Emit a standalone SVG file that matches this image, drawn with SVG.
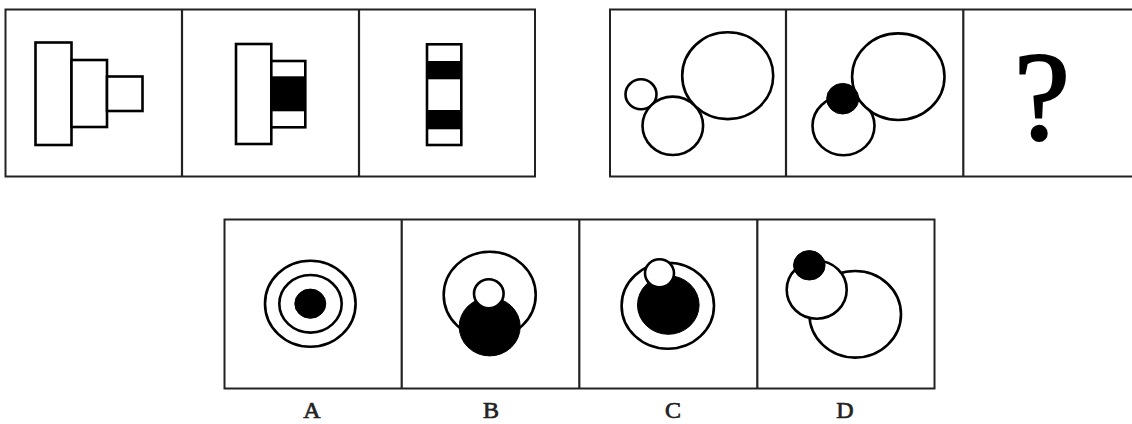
<svg xmlns="http://www.w3.org/2000/svg" width="1132" height="424" viewBox="0 0 1132 424">
<style>
.frame{fill:none;stroke:#222;stroke-width:2}
.div{stroke:#222;stroke-width:2.2}
.sh{fill:#fff;stroke:#000;stroke-width:2.6}
.blk{fill:#000;stroke:#000;stroke-width:1}
.band{fill:#000}
.lbl{font-family:"Liberation Serif","Times New Roman",serif;font-size:24px;fill:#222;stroke:#222;stroke-width:0.7;text-anchor:middle}
.q{font-family:"Liberation Serif","Times New Roman",serif;font-size:126px;fill:#000;stroke:#000;stroke-width:2.2;text-anchor:middle}
</style>
<rect width="1132" height="424" fill="#fff"/>

<g id="frames">
  <rect class="frame" x="5.5" y="9.5" width="529.5" height="167"/>
  <line class="div" x1="182" y1="9.5" x2="182" y2="176.5"/>
  <line class="div" x1="359" y1="9.5" x2="359" y2="176.5"/>
  <rect class="frame" x="610" y="9.5" width="526" height="167"/>
  <line class="div" x1="786" y1="9.5" x2="786" y2="176.5"/>
  <line class="div" x1="963.3" y1="9.5" x2="963.3" y2="176.5"/>
  <rect class="frame" x="224.5" y="219.5" width="710" height="169"/>
  <line class="div" x1="401.7" y1="219.5" x2="401.7" y2="388.5"/>
  <line class="div" x1="579.3" y1="219.5" x2="579.3" y2="388.5"/>
  <line class="div" x1="757.3" y1="219.5" x2="757.3" y2="388.5"/>
</g>

<g id="panel1">
  <rect class="sh" x="35.5" y="42.5" width="36" height="102.5"/>
  <rect class="sh" x="71.5" y="60" width="35.5" height="67"/>
  <rect class="sh" x="107" y="76.5" width="35.5" height="34.5"/>
</g>

<g id="panel2">
  <rect class="sh" x="236" y="44" width="35.3" height="100"/>
  <rect class="sh" x="271.3" y="61" width="34" height="66.3"/>
  <rect class="band" x="271.3" y="76.3" width="34" height="35"/>
</g>

<g id="panel3">
  <rect class="sh" x="427" y="44.3" width="34.3" height="100.7"/>
  <rect class="band" x="427" y="61" width="34.3" height="18.3"/>
  <rect class="band" x="427" y="110" width="34.3" height="19.3"/>
</g>

<g id="panel4">
  <ellipse class="sh" cx="641" cy="94.3" rx="15.5" ry="15"/>
  <ellipse class="sh" cx="672.8" cy="125.8" rx="30.3" ry="29.2"/>
  <ellipse class="sh" cx="727.7" cy="75.7" rx="45.5" ry="43.4"/>
</g>

<g id="panel5">
  <ellipse class="sh" cx="843.5" cy="125.8" rx="31" ry="29.5"/>
  <ellipse class="sh" cx="898.3" cy="76.7" rx="46.2" ry="43.3"/>
  <ellipse class="blk" cx="842.7" cy="98.7" rx="16" ry="15.3"/>
</g>

<g id="panel6">
  <text class="q" x="1042" y="139">?</text>
</g>

<g id="optionA">
  <ellipse class="sh" cx="310.3" cy="303.7" rx="45.3" ry="43"/>
  <ellipse class="sh" cx="310.5" cy="303.8" rx="31.2" ry="28.8"/>
  <ellipse class="blk" cx="310.3" cy="303.7" rx="15.5" ry="14.6"/>
  <text class="lbl" x="312" y="418">A</text>
</g>

<g id="optionB">
  <ellipse class="sh" cx="489.7" cy="295" rx="46" ry="43.3"/>
  <ellipse class="blk" cx="489.7" cy="326.7" rx="30.5" ry="29.2"/>
  <ellipse class="sh" cx="488.8" cy="293.8" rx="14.8" ry="14.5"/>
  <text class="lbl" x="491" y="418">B</text>
</g>

<g id="optionC">
  <ellipse class="sh" cx="667.8" cy="305.7" rx="46.2" ry="43"/>
  <ellipse class="blk" cx="668.3" cy="305" rx="30.8" ry="29.3"/>
  <ellipse class="sh" cx="659.5" cy="273.3" rx="14.5" ry="14"/>
  <text class="lbl" x="673" y="418">C</text>
</g>

<g id="optionD">
  <ellipse class="sh" cx="855.2" cy="314.3" rx="45.8" ry="43.3"/>
  <ellipse class="sh" cx="816.7" cy="289.7" rx="30" ry="29"/>
  <ellipse class="blk" cx="809.3" cy="265.3" rx="15.8" ry="14.7"/>
  <text class="lbl" x="845" y="418">D</text>
</g>
</svg>
